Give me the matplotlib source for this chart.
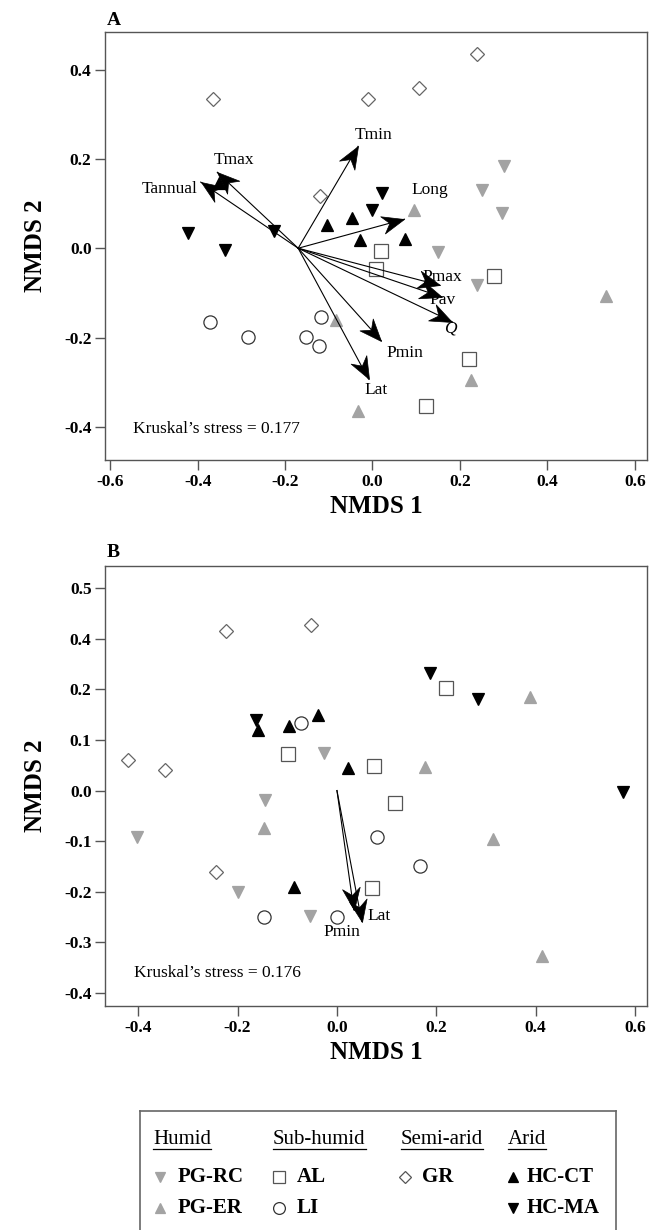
import numpy as np
import matplotlib
matplotlib.use('Agg')
import matplotlib.pyplot as plt
from matplotlib.lines import Line2D
from matplotlib.path import Path
from matplotlib.markers import MarkerStyle
from matplotlib.transforms import Affine2D

plt.rcParams['font.family'] = ['Liberation Serif', 'DejaVu Serif']
plt.rcParams['axes.unicode_minus'] = False

W, H = 657, 1230

# ---- panel A: NMDS scores ----
a_rc_x = [0.300, 0.250, 0.296, 0.150, 0.240]
a_rc_y = [0.184, 0.131, 0.079, -0.008, -0.083]
a_er_x = [0.094, 0.535, -0.083, 0.226, -0.032]
a_er_y = [0.086, -0.108, -0.160, -0.295, -0.365]
a_al_x = [0.020, 0.007, 0.279, 0.220, 0.122]
a_al_y = [-0.006, -0.047, -0.062, -0.248, -0.353]
a_li_x = [-0.372, -0.284, -0.118, -0.152, -0.122]
a_li_y = [-0.165, -0.198, -0.153, -0.198, -0.218]
a_gr_x = [-0.365, -0.011, 0.106, 0.240, -0.119]
a_gr_y = [0.333, 0.334, 0.359, 0.434, 0.116]
a_ct_x = [-0.352, -0.104, -0.048, -0.029, 0.074]
a_ct_y = [0.147, 0.053, 0.068, 0.019, 0.020]
a_ma_x = [-0.422, -0.338, -0.225, 0.022, -0.001]
a_ma_y = [0.034, -0.005, 0.038, 0.124, 0.085]

# environmental vectors (panel A)
a_origin = (-0.17, 0.0)
a_vec_names = ['Tannual', 'Tmax', 'Tmin', 'Long', 'Pmax', 'Pav', 'Q', 'Pmin', 'Lat']
a_vec_x = [-0.393, -0.355, -0.033, 0.073, 0.154, 0.158, 0.183, 0.020, -0.009]
a_vec_y = [0.148, 0.170, 0.228, 0.065, -0.083, -0.109, -0.165, -0.207, -0.293]
a_lab_x = [-0.465, -0.316, 0.003, 0.131, 0.159, 0.161, 0.179, 0.074, 0.008]
a_lab_y = [0.133, 0.197, 0.254, 0.130, -0.064, -0.115, -0.180, -0.235, -0.318]

# ---- panel B: NMDS scores ----
b_rc_x = [-0.027, -0.145, -0.402, -0.199, -0.055]
b_rc_y = [0.074, -0.018, -0.091, -0.200, -0.248]
b_er_x = [0.388, 0.177, -0.147, 0.315, 0.412]
b_er_y = [0.185, 0.047, -0.074, -0.095, -0.327]
b_al_x = [0.220, -0.098, 0.075, 0.116, 0.070]
b_al_y = [0.203, 0.072, 0.048, -0.025, -0.193]
b_li_x = [-0.072, 0.080, 0.167, -0.147, 0.000]
b_li_y = [0.133, -0.092, -0.149, -0.251, -0.251]
b_gr_x = [-0.224, -0.052, -0.420, -0.346, -0.244]
b_gr_y = [0.315, 0.327, 0.060, 0.040, -0.161]
b_ct_x = [-0.158, -0.096, -0.039, 0.022, -0.086]
b_ct_y = [0.120, 0.127, 0.149, 0.045, -0.190]
b_ma_x = [0.187, 0.284, -0.162, 0.575]
b_ma_y = [0.233, 0.181, 0.140, -0.003]

b_origin = (0.0, 0.0)
b_vec_names = ['Pmin', 'Lat']
b_vec_x = [0.034, 0.050]
b_vec_y = [-0.236, -0.259]
b_lab_x = [0.009, 0.085]
b_lab_y = [-0.280, -0.248]

a_xticks = [-0.6, -0.4, -0.2, 0.0, 0.2, 0.4, 0.6]
a_yticks = [-0.4, -0.2, 0.0, 0.2, 0.4]
b_xticks = [-0.4, -0.2, 0.0, 0.2, 0.4, 0.6]
b_yticks = [0.4, 0.3, 0.2, 0.1, 0.0, -0.1, -0.2, -0.3, -0.4]
b_ylabels = ['0.5', '0.4', '0.2', '0.1', '0.0', '-0.1', '-0.2', '-0.3', '-0.4']

GRAY = '#a3a3a3'
EDGE = '#555555'

# arrow head with a notched back, tip at (0, 0), pointing along +x
HEAD = Path([(0, 0), (-1, 0.4), (-0.68, 0), (-1, -0.4), (0, 0)],
            [Path.MOVETO, Path.LINETO, Path.LINETO, Path.LINETO, Path.CLOSEPOLY])


def fx(x):
    return x / W


def fy(y):
    return 1 - y / H


def draw_points(ax, groups):
    for x, y, m, ms, fc, ec in groups:
        ax.plot(x, y, linestyle='none', marker=m, ms=ms, mfc=fc, mec=ec,
                mew=0.9, zorder=3)


def style(ax, xticks, yticks, ylabels=None):
    for s in ax.spines.values():
        s.set_color(EDGE)
        s.set_linewidth(1.0)
    ax.set_xticks(xticks, ['%.1f' % t for t in xticks])
    if ylabels is None:
        ylabels = ['%.1f' % t for t in yticks]
    ax.set_yticks(yticks, ylabels)
    ax.tick_params(direction='out', length=7, width=1, color=EDGE,
                   labelsize=12.5, pad=3)
    for lab in ax.get_xticklabels() + ax.get_yticklabels():
        lab.set_fontweight('bold')
    ax.set_xlabel('NMDS 1', fontsize=18, fontweight='bold', labelpad=4)
    ax.set_ylabel('NMDS 2', fontsize=18, fontweight='bold')
    ax.yaxis.set_label_coords(-0.108, 0.5)


def draw_vectors(ax, origin, vx, vy):
    p0 = ax.transData.transform(origin)
    for x, y in zip(vx, vy):
        ax.plot([origin[0], x], [origin[1], y], color='black', lw=0.8, zorder=4)
        p1 = ax.transData.transform((x, y))
        ang = np.arctan2(p1[1] - p0[1], p1[0] - p0[0])
        mk = MarkerStyle(HEAD, transform=Affine2D().rotate(ang))
        ax.plot([x], [y], linestyle='none', marker=mk, ms=32, mfc='black',
                mec='black', mew=0.5, zorder=4)


fig = plt.figure(figsize=(W / 100, H / 100), dpi=100)

# ---------- panel A ----------
axA = fig.add_axes([fx(105.4), fy(460), (647 - 105.4) / W, (460 - 32) / H])
axA.set_xlim(-0.611, 0.628)
axA.set_ylim(-0.474, 0.484)
draw_points(axA, [
    (a_rc_x, a_rc_y, 'v', 8, GRAY, GRAY),
    (a_er_x, a_er_y, '^', 8, GRAY, GRAY),
    (a_al_x, a_al_y, 's', 9.5, 'none', EDGE),
    (a_li_x, a_li_y, 'o', 9.5, 'none', '#333333'),
    (a_gr_x, a_gr_y, 'D', 7, 'none', '#666666'),
    (a_ct_x, a_ct_y, '^', 8, 'black', 'black'),
    (a_ma_x, a_ma_y, 'v', 8, 'black', 'black'),
])
draw_vectors(axA, a_origin, a_vec_x, a_vec_y)
for name, x, y in zip(a_vec_names, a_lab_x, a_lab_y):
    axA.text(x, y, name, fontsize=12.5, ha='center', va='center',
             style='italic' if name == 'Q' else 'normal', zorder=5)
axA.text(-0.547, -0.405, 'Kruskal\u2019s stress = 0.177', fontsize=12.5,
         ha='left', va='center')
style(axA, a_xticks, a_yticks)
axA.text(0.003, 1.028, 'A', transform=axA.transAxes, fontsize=14,
         fontweight='bold', ha='left', va='center')

# ---------- panel B ----------
axB = fig.add_axes([fx(105.4), fy(1006), (647 - 105.4) / W, (1006 - 566) / H])
axB.set_xlim(-0.466, 0.624)
axB.set_ylim(-0.426, 0.444)
draw_points(axB, [
    (b_rc_x, b_rc_y, 'v', 8, GRAY, GRAY),
    (b_er_x, b_er_y, '^', 8, GRAY, GRAY),
    (b_al_x, b_al_y, 's', 9.5, 'none', EDGE),
    (b_li_x, b_li_y, 'o', 9.5, 'none', '#333333'),
    (b_gr_x, b_gr_y, 'D', 7, 'none', '#666666'),
    (b_ct_x, b_ct_y, '^', 8, 'black', 'black'),
    (b_ma_x, b_ma_y, 'v', 8, 'black', 'black'),
])
draw_vectors(axB, b_origin, b_vec_x, b_vec_y)
for name, x, y in zip(b_vec_names, b_lab_x, b_lab_y):
    axB.text(x, y, name, fontsize=12.5, ha='center', va='center', zorder=5)
axB.text(-0.409, -0.361, 'Kruskal\u2019s stress = 0.176', fontsize=12.5,
         ha='left', va='center')
style(axB, b_xticks, b_yticks, b_ylabels)
axB.text(0.003, 1.03, 'B', transform=axB.transAxes, fontsize=14,
         fontweight='bold', ha='left', va='center')

# ---------- legend box ----------
axL = fig.add_axes([fx(140), fy(1240), (616 - 140) / W, (1240 - 1110.7) / H])
axL.set_xticks([])
axL.set_yticks([])
for s in axL.spines.values():
    s.set_color('#666666')
    s.set_linewidth(1.2)
axL.spines['bottom'].set_visible(False)

headers = ['Humid', 'Sub-humid', 'Semi-arid', 'Arid']
header_x = [153, 273, 401, 508]
leg_labels = [['PG-RC', 'PG-ER'], ['AL', 'LI'], ['GR'], ['HC-CT', 'HC-MA']]
leg_marks = [[('v', 6.5, GRAY, GRAY), ('^', 6.5, GRAY, GRAY)],
             [('s', 8.5, 'none', EDGE), ('o', 8.5, 'none', '#333333')],
             [('D', 6, 'none', '#555555')],
             [('^', 6.5, 'black', 'black'), ('v', 6.5, 'black', 'black')]]
mark_x = [160, 279, 405, 512.7]
text_x = [178, 296.7, 421.7, 526.7]
row_y = [1177, 1208]

fig.canvas.draw()
renderer = fig.canvas.get_renderer()
for hdr, hx in zip(headers, header_x):
    t = fig.text(fx(hx), fy(1140), hdr, fontsize=15, ha='left', va='center')
    bb = t.get_window_extent(renderer)
    uy = fy(1149)
    fig.add_artist(Line2D([bb.x0 / fig.bbox.width, bb.x1 / fig.bbox.width],
                          [uy, uy], color='black', lw=0.9))

for col in range(4):
    for row, (lab, mk) in enumerate(zip(leg_labels[col], leg_marks[col])):
        m, ms, fc, ec = mk
        fig.add_artist(Line2D([fx(mark_x[col])], [fy(row_y[row])], marker=m,
                              ms=ms, mfc=fc, mec=ec, mew=0.9, linestyle='none'))
        fig.text(fx(text_x[col]), fy(row_y[row]), lab, fontsize=15,
                 fontweight='bold', ha='left', va='center')

fig.savefig('out.png', dpi=100)
